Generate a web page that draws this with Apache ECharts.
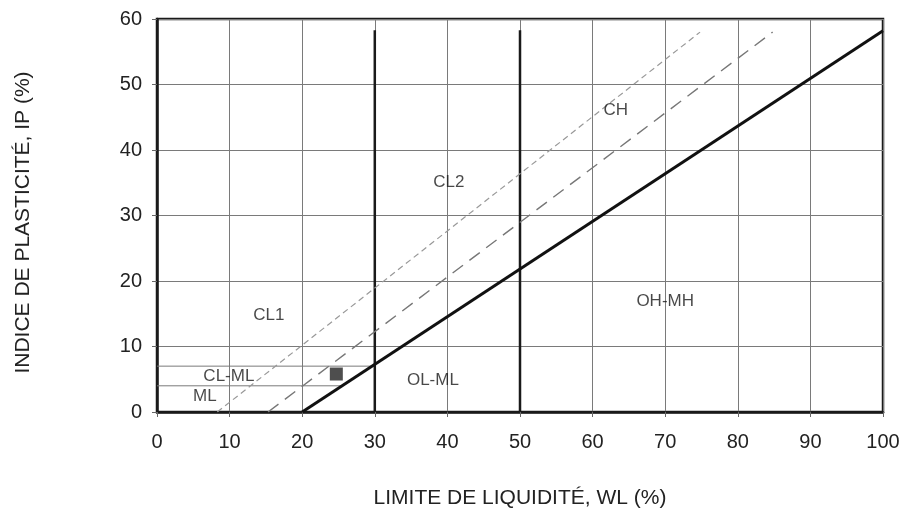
<!DOCTYPE html>
<html>
<head>
<meta charset="utf-8">
<script src="https://cdn.jsdelivr.net/npm/echarts@6/dist/echarts.min.js"></script>
<style>
html,body{margin:0;padding:0;background:#fff;}
#chart{width:900px;height:513px;}
</style>
</head>
<body>
<div id="chart"></div>
<script>
// Axis ticks
const xTicks = [0, 10, 20, 30, 40, 50, 60, 70, 80, 90, 100];
const yTicks = [0, 10, 20, 30, 40, 50, 60];

// Boundary lines (WL, IP)
const aLine = [[20, 0], [100, 58.2]];
const uLine1 = [[8.3, 0], [74.8, 58]];
const uLine2 = [[15.3, 0], [84.8, 58]];
const vLine30 = [[30, 0], [30, 58.3]];
const vLine50 = [[50, 0], [50, 58.3]];
const hLine4 = [[0, 4], [25.5, 4]];
const hLine7 = [[0, 7], [29.6, 7]];

// Sample point
const samplePoint = [[24.7, 5.8]];

// Zone labels
const zoneNames = ['CH', 'CL2', 'CL1', 'CL-ML', 'ML', 'OL-ML', 'OH-MH'];
const zoneX = [63.2, 40.2, 15.4, 9.9, 6.6, 38.0, 70.0];
const zoneY = [46.0, 35.0, 14.8, 5.4, 2.4, 4.8, 16.9];

const chart = echarts.init(document.getElementById('chart'));
const font = 'Liberation Sans, Arial, sans-serif';

function lineSeries(data, style) {
  return { type: 'line', data: data, symbol: 'none', silent: true, lineStyle: style, z: 3, animation: false };
}

chart.setOption({
  animation: false,
  backgroundColor: '#fff',
  grid: { left: 157, right: 17, top: 19, bottom: 101, outerBoundsMode: 'none', containLabel: false, show: true, borderColor: '#1a1a1a', borderWidth: 2.5, backgroundColor: 'transparent' },
  xAxis: {
    type: 'value', min: xTicks[0], max: xTicks[xTicks.length - 1], interval: 10,
    name: 'LIMITE DE LIQUIDITÉ, WL (%)', nameLocation: 'middle', nameGap: 76,
    nameTextStyle: { fontFamily: font, fontSize: 21, color: '#222' },
    axisLine: { show: true, lineStyle: { color: '#1a1a1a', width: 2.5 } },
    axisTick: { show: true, length: 5, lineStyle: { color: '#666' } },
    axisLabel: { fontFamily: font, fontSize: 20, color: '#222', margin: 20 },
    splitLine: { show: true, lineStyle: { color: '#7a7a7a', width: 1 } }
  },
  yAxis: {
    type: 'value', min: yTicks[0], max: yTicks[yTicks.length - 1], interval: 10,
    name: 'INDICE DE PLASTICITÉ, IP (%)', nameLocation: 'middle', nameGap: 123, nameRotate: 90,
    nameTextStyle: { fontFamily: font, fontSize: 21, color: '#222', padding: [0, 14, 0, 0] },
    axisLine: { show: true, lineStyle: { color: '#1a1a1a', width: 2.5 } },
    axisTick: { show: true, length: 5, lineStyle: { color: '#666' } },
    axisLabel: { fontFamily: font, fontSize: 20, color: '#222', margin: 15 },
    splitLine: { show: true, lineStyle: { color: '#7a7a7a', width: 1 } }
  },
  series: [
    lineSeries(hLine4, { color: '#7a7a7a', width: 1 }),
    lineSeries(hLine7, { color: '#7a7a7a', width: 1 }),
    lineSeries(vLine30, { color: '#1a1a1a', width: 2.5 }),
    lineSeries(vLine50, { color: '#1a1a1a', width: 2.5 }),
    lineSeries(uLine1, { color: '#999', width: 1.2, type: [6, 4] }),
    lineSeries(uLine2, { color: '#777', width: 1.4, type: [13, 8] }),
    lineSeries(aLine, { color: '#111', width: 3 }),
    {
      type: 'scatter', data: samplePoint, symbol: 'rect', symbolSize: 13,
      itemStyle: { color: '#222' }, z: 5, silent: true
    },
    {
      type: 'scatter', symbolSize: 0, silent: true, z: 6,
      data: zoneNames.map((n, i) => ({ value: [zoneX[i], zoneY[i]], name: n })),
      label: { show: true, position: 'inside', formatter: p => p.name, fontFamily: font, fontSize: 17, color: '#1a1a1a' }
    }
  ]
});
</script>
</body>
</html>
